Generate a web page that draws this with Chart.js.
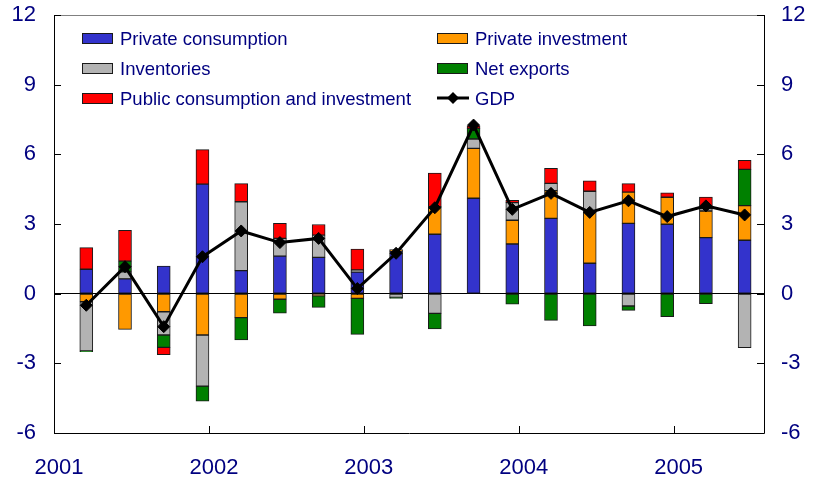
<!DOCTYPE html>
<html>
<head>
<meta charset="utf-8">
<script src="https://cdn.jsdelivr.net/npm/chart.js@4.4.1/dist/chart.umd.min.js"></script>
<style>
  html, body { margin: 0; padding: 0; background: #fff; }
  #wrap { width: 813px; height: 484px; }
</style>
</head>
<body>
<div id="wrap"><canvas id="gdpChart" width="813" height="484"></canvas></div>
<script>
const quarters = ['2001Q1', '2001Q2', '2001Q3', '2001Q4', '2002Q1', '2002Q2', '2002Q3', '2002Q4', '2003Q1',
  '2003Q2', '2003Q3', '2003Q4', '2004Q1', '2004Q2', '2004Q3', '2004Q4', '2005Q1', '2005Q2'];

const privateConsumption = [1.05, 0.64, 1.19, 4.72, 0.99, 1.62, 1.56, 0.93, 1.83, 2.56, 4.11, 2.14, 3.24, 1.31, 3.03, 2.99, 2.41, 2.30];
const privateInvestment = [-0.35, -1.54, -0.78, -1.78, -1.03, -0.24, -0.09, -0.20, 0.07, 1.19, 2.15, 1.02, 1.20, 2.20, 1.34, 1.16, 1.15, 1.49];
const inventories = [-2.12, 0.30, -1.00, -2.20, 2.97, 0.76, 0.96, 0.09, -0.16, -0.85, 0.40, 0.76, 0.31, 0.90, -0.53, null, 0.10, -2.33];
const netExports = [-0.03, 0.46, -0.53, -0.65, -0.96, -0.60, -0.50, -1.55, -0.04, -0.67, 0.46, -0.45, -1.15, -1.39, -0.19, -0.99, -0.43, 1.56];
const publicSpending = [0.93, 1.33, -0.32, 1.48, 0.78, 0.65, 0.46, 0.90, null, 1.44, 0.11, 0.10, 0.65, 0.45, 0.37, 0.19, 0.50, 0.39];
const gdp = [-0.50, 1.16, -1.42, 1.59, 2.70, 2.20, 2.38, 0.22, 1.74, 3.70, 7.26, 3.63, 4.32, 3.50, 4.00, 3.32, 3.78, 3.39];

const yearLabels = ['2001', '2002', '2003', '2004', '2005'];
const yTickValues = [-6, -3, 0, 3, 6, 9, 12];

const navy = '#000080';
const fontFamily = '"Liberation Sans", Arial, sans-serif';

// x axis counts months from Jan 2001; each quarter sits in the middle of its last month
const xPos = quarters.map((q, i) => i * 3 + 2.5);
const yearPos = yearLabels.map((y, i) => i * 12);
const toPoints = arr => arr.map((v, i) => ({ x: xPos[i], y: v }));

const barDataset = (label, data, color) => ({
  type: 'bar',
  label: label,
  data: toPoints(data),
  backgroundColor: color,
  borderColor: '#1a1a1a',
  borderWidth: 1,
  borderSkipped: false,
  barThickness: 13,
  stack: 'contrib',
  order: 1
});

// keep the plot box where the original has it, whatever the labels need
const noPad = scale => {
  scale.paddingTop = 0;
  scale.paddingBottom = 0;
  scale.paddingLeft = 0;
  scale.paddingRight = 0;
};

// frame, inward tick marks and the two-column legend
const frameAndLegend = {
  id: 'frameAndLegend',
  afterDraw(chart) {
    const { ctx, chartArea: a } = chart;
    const yScale = chart.scales.y;
    const xScale = chart.scales.x;
    ctx.save();

    ctx.lineWidth = 1;
    ctx.strokeStyle = '#808080';
    ctx.beginPath();
    ctx.moveTo(a.left, a.top + 0.5);
    ctx.lineTo(a.right, a.top + 0.5);
    ctx.stroke();

    ctx.strokeStyle = '#000';
    ctx.beginPath();
    ctx.moveTo(a.left + 0.5, a.top);
    ctx.lineTo(a.left + 0.5, a.bottom + 0.5);
    ctx.lineTo(a.right + 0.5, a.bottom + 0.5);
    ctx.lineTo(a.right + 0.5, a.top);
    ctx.stroke();

    ctx.beginPath();
    yTickValues.forEach(v => {
      const py = Math.round(yScale.getPixelForValue(v)) + 0.5;
      ctx.moveTo(a.left, py);
      ctx.lineTo(a.left + 7, py);
      ctx.moveTo(a.right - 7, py);
      ctx.lineTo(a.right, py);
    });
    yearPos.slice(1).forEach(v => {
      const px = Math.round(xScale.getPixelForValue(v)) + 0.5;
      ctx.moveTo(px, a.bottom);
      ctx.lineTo(px, a.bottom - 7);
    });
    ctx.stroke();

    // legend
    ctx.font = '18.5px ' + fontFamily;
    ctx.textBaseline = 'alphabetic';
    chart.data.datasets.forEach((ds, i) => {
      const col = i % 2;
      const row = Math.floor(i / 2);
      const bx = a.left + (col === 0 ? 28 : 383);
      const cy = a.top + 23 + row * 30;
      if (ds.type === 'line') {
        ctx.strokeStyle = '#000';
        ctx.lineWidth = 3;
        ctx.beginPath();
        ctx.moveTo(bx, cy);
        ctx.lineTo(bx + 32, cy);
        ctx.stroke();
        ctx.fillStyle = '#000';
        ctx.beginPath();
        ctx.moveTo(bx + 16 - 6, cy);
        ctx.lineTo(bx + 16, cy - 6);
        ctx.lineTo(bx + 16 + 6, cy);
        ctx.lineTo(bx + 16, cy + 6);
        ctx.closePath();
        ctx.fill();
      } else {
        ctx.fillStyle = ds.backgroundColor;
        ctx.fillRect(bx, cy - 5, 31, 11);
        ctx.strokeStyle = '#1a1a1a';
        ctx.lineWidth = 1;
        ctx.strokeRect(bx + 0.5, cy - 4.5, 30, 10);
      }
      ctx.fillStyle = navy;
      ctx.fillText(ds.label, bx + 38, cy + 7);
    });

    ctx.restore();
  }
};

new Chart(document.getElementById('gdpChart'), {
  data: {
    datasets: [
      barDataset('Private consumption', privateConsumption, '#3333CC'),
      barDataset('Private investment', privateInvestment, '#FF9900'),
      barDataset('Inventories', inventories, '#B3B3B3'),
      barDataset('Net exports', netExports, '#008000'),
      barDataset('Public consumption and investment', publicSpending, '#FF0000'),
      {
        type: 'line',
        label: 'GDP',
        data: toPoints(gdp),
        borderColor: '#000',
        backgroundColor: '#000',
        borderWidth: 3,
        pointStyle: 'rectRot',
        pointRadius: 6,
        pointBorderWidth: 1,
        pointBackgroundColor: '#000',
        tension: 0,
        stack: 'gdp',
        order: 0
      }
    ]
  },
  options: {
    responsive: false,
    animation: false,
    devicePixelRatio: 1,
    layout: { padding: { top: 15, left: 0, right: 0, bottom: 0 } },
    plugins: {
      legend: { display: false },
      tooltip: { enabled: false }
    },
    scales: {
      x: {
        type: 'linear',
        min: 0,
        max: 55,
        offset: false,
        stacked: true,
        grid: { display: false, drawTicks: false, offset: false },
        border: { display: false },
        afterBuildTicks: scale => { scale.ticks = yearPos.map(v => ({ value: v })); },
        afterFit: scale => { scale.height = 51; noPad(scale); },
        ticks: {
          autoSkip: false,
          maxRotation: 0,
          padding: 22,
          labelOffset: 5,
          color: navy,
          font: { size: 22, family: fontFamily },
          callback: (v, i) => yearLabels[i]
        }
      },
      y: {
        position: 'left',
        min: -6,
        max: 12,
        stacked: true,
        border: { display: false },
        grid: {
          drawTicks: false,
          color: c => c.tick && c.tick.value === 0 ? '#000' : 'transparent',
          lineWidth: 1
        },
        afterBuildTicks: scale => { scale.ticks = yTickValues.map(v => ({ value: v })); },
        afterFit: scale => { scale.width = 54; noPad(scale); },
        ticks: {
          padding: 18,
          color: navy,
          font: { size: 22, family: fontFamily }
        }
      },
      y2: {
        position: 'right',
        min: -6,
        max: 12,
        border: { display: false },
        grid: { display: false, drawTicks: false },
        afterBuildTicks: scale => { scale.ticks = yTickValues.map(v => ({ value: v })); },
        afterFit: scale => { scale.width = 49; noPad(scale); },
        ticks: {
          padding: 17,
          color: navy,
          font: { size: 22, family: fontFamily }
        }
      }
    }
  },
  plugins: [frameAndLegend]
});
</script>
</body>
</html>
